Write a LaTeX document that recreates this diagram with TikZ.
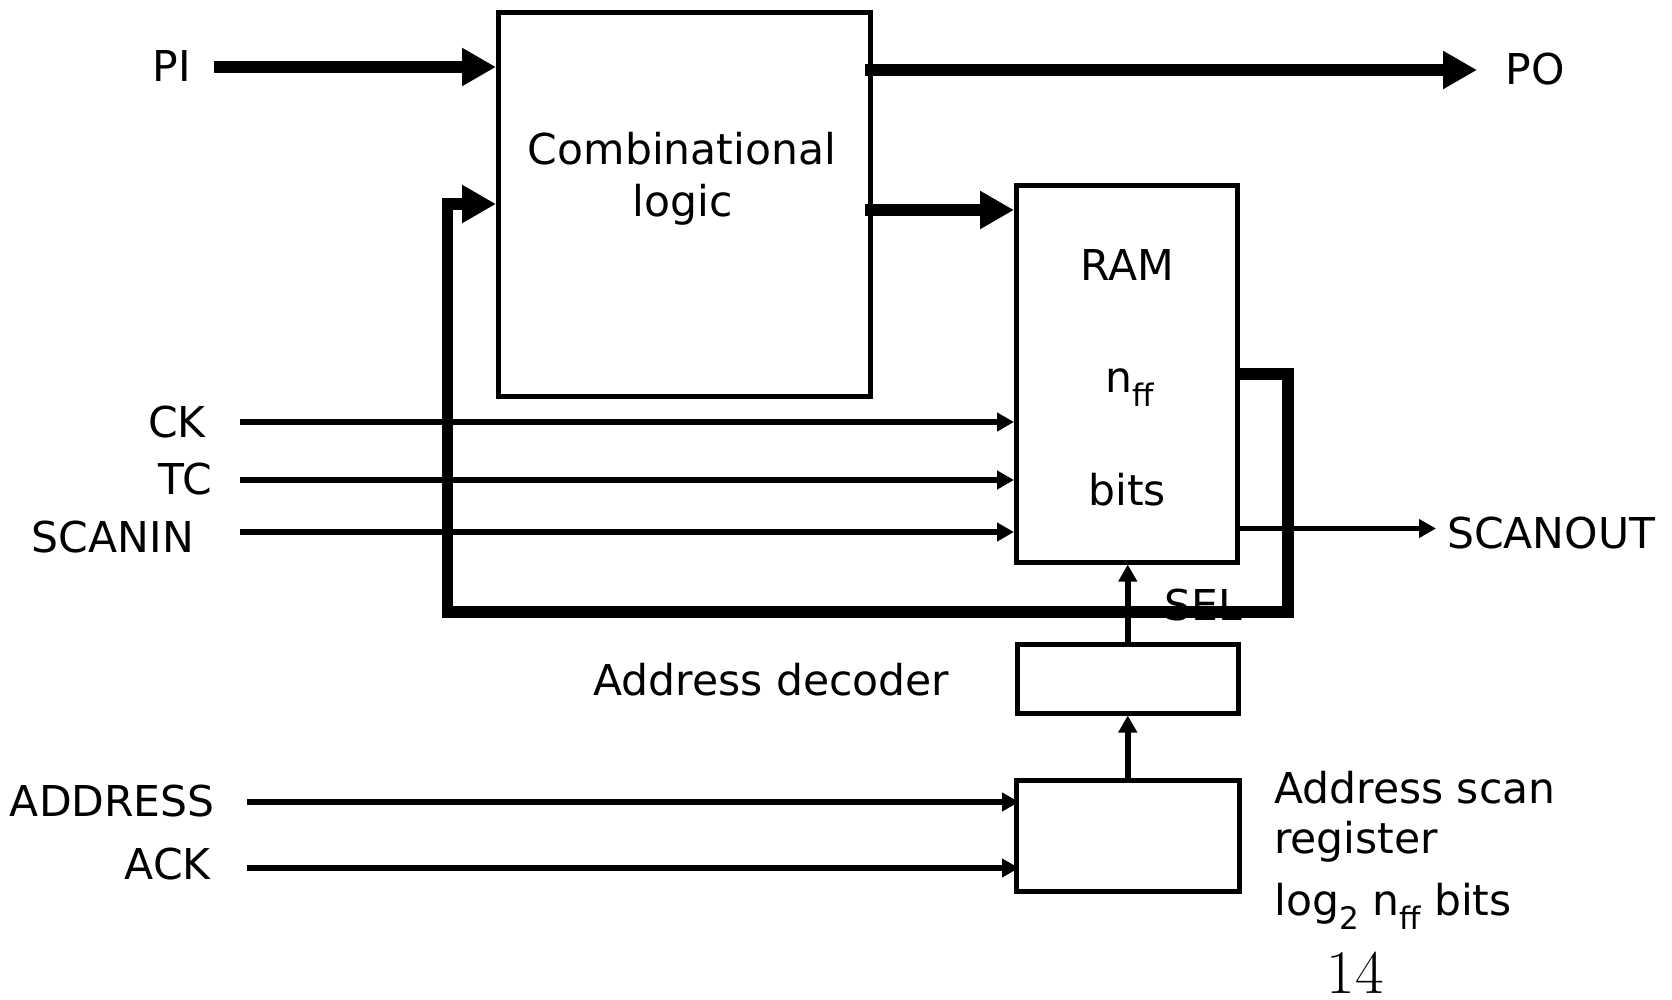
\documentclass[tikz,border=0pt]{standalone}
\usepackage{fontspec}
\usetikzlibrary{arrows.meta}
\newfontfamily\dvsans{DejaVu Sans}

\newcommand\lblfont{\dvsans\fontsize{42.5}{50}\selectfont}
\newcommand\lowsub[1]{\raisebox{-0.33em}{\fontsize{31}{31}\selectfont #1}}

\begin{document}
\begin{tikzpicture}[x=1pt, y=-1pt, line join=miter,
  block/.style={draw, line width=5pt, inner sep=0pt},
  lbl/.style={font=\lblfont, inner sep=0pt},
  sig/.style={line width=5.5pt, -{Triangle[length=17pt,width=18pt]}},
  bus/.style={line width=11.5pt, -{Triangle[length=34pt,width=36pt]}}]

\useasboundingbox (0,0) rectangle (1672,1000);

% blocks
\node[block, minimum width=371.5pt, minimum height=383.5pt] (comb) at (684.25,204.25) {};
\node[block, minimum width=221pt,   minimum height=376.5pt] (ram)  at (1127,373.75) {};
\node[block, minimum width=221.5pt, minimum height=68.5pt]  (dec)  at (1127.75,678.75) {};
\node[block, minimum width=222.5pt, minimum height=110.5pt] (asr)  at (1127.75,835.75) {};

% texts
\node[lbl, anchor=base] (combA) at (682,165) {Combinational};
\node[lbl, anchor=base] (combB) at (682.5,217) {logic};
\node[lbl, anchor=base] (ramA) at (1127.5,280) {RAM};
\node[lbl, anchor=base] (ramB) at (1130,392) {n\lowsub{ff}};
\node[lbl, anchor=base] (ramC) at (1127,505) {bits};

\node[lbl, anchor=base] (pi) at (172,82) {PI};
\node[lbl, anchor=base] (po) at (1535.5,85) {PO};
\node[lbl, anchor=base east] (ck) at (206,437) {CK};
\node[lbl, anchor=base east] (tc) at (212,494) {TC};
\node[lbl, anchor=base east] (scanin) at (194,552) {SCANIN};
\node[lbl, anchor=base east] (address) at (215,816) {ADDRESS};
\node[lbl, anchor=base east] (ack) at (211,879) {ACK};
\node[lbl, anchor=base west] (scanout) at (1447,548) {SCANOUT};
\node[lbl, anchor=base] (sel) at (1203.5,620) {SEL};
\node[lbl, anchor=base] (decT) at (771.5,695) {Address decoder};
\node[lbl, anchor=base west] (asrA) at (1274,803) {Address scan};
\node[lbl, anchor=base west] (asrB) at (1274,853) {register};
\node[lbl, anchor=base west] (asrC) at (1274,915) {log\lowsub{2} n\lowsub{ff} bits};
\node[font=\rmfamily\fontsize{62}{62}\selectfont, inner sep=0pt, anchor=base] (pagenum) at (1355,993) {14};

% free ends of the connectors
\coordinate (piS) at (214,67);
\coordinate (poE) at (1477,70);
\coordinate (fbR) at (1288,612);
\coordinate (fbL) at (447.5,612);
\coordinate (ckS) at (240,422);
\coordinate (tcS) at (240,480);
\coordinate (scS) at (240,532);
\coordinate (adS) at (247,802);
\coordinate (akS) at (247,868);
\coordinate (soE) at (1436,528.5);

% thin control lines
\draw[sig] (ckS) -- (ckS -| ram.west);
\draw[sig] (tcS) -- (tcS -| ram.west);
\draw[sig] (scS) -- (scS -| ram.west);
\draw[sig] (adS) -- ([xshift=5pt]adS -| asr.west);
\draw[sig] (akS) -- ([xshift=5pt]akS -| asr.west);
\draw[sig] (soE -| ram.east) -- (soE);
\draw[sig] (dec.north) -- (dec.north |- ram.south);
\draw[sig] (asr.north) -- (asr.north |- dec.south);

% wide data buses
\draw[bus] (piS) -- (piS -| comb.west);
\draw[bus] ([xshift=-8pt]comb.east |- poE) -- (poE);
\draw[bus] ([xshift=-8pt]comb.east |- 0,210) -- (ram.west |- 0,210);
\draw[bus] ([xshift=-5pt]ram.east |- 0,374) -| (fbR) -- (fbL) |- (comb.west |- 0,204);

\end{tikzpicture}
\end{document}
